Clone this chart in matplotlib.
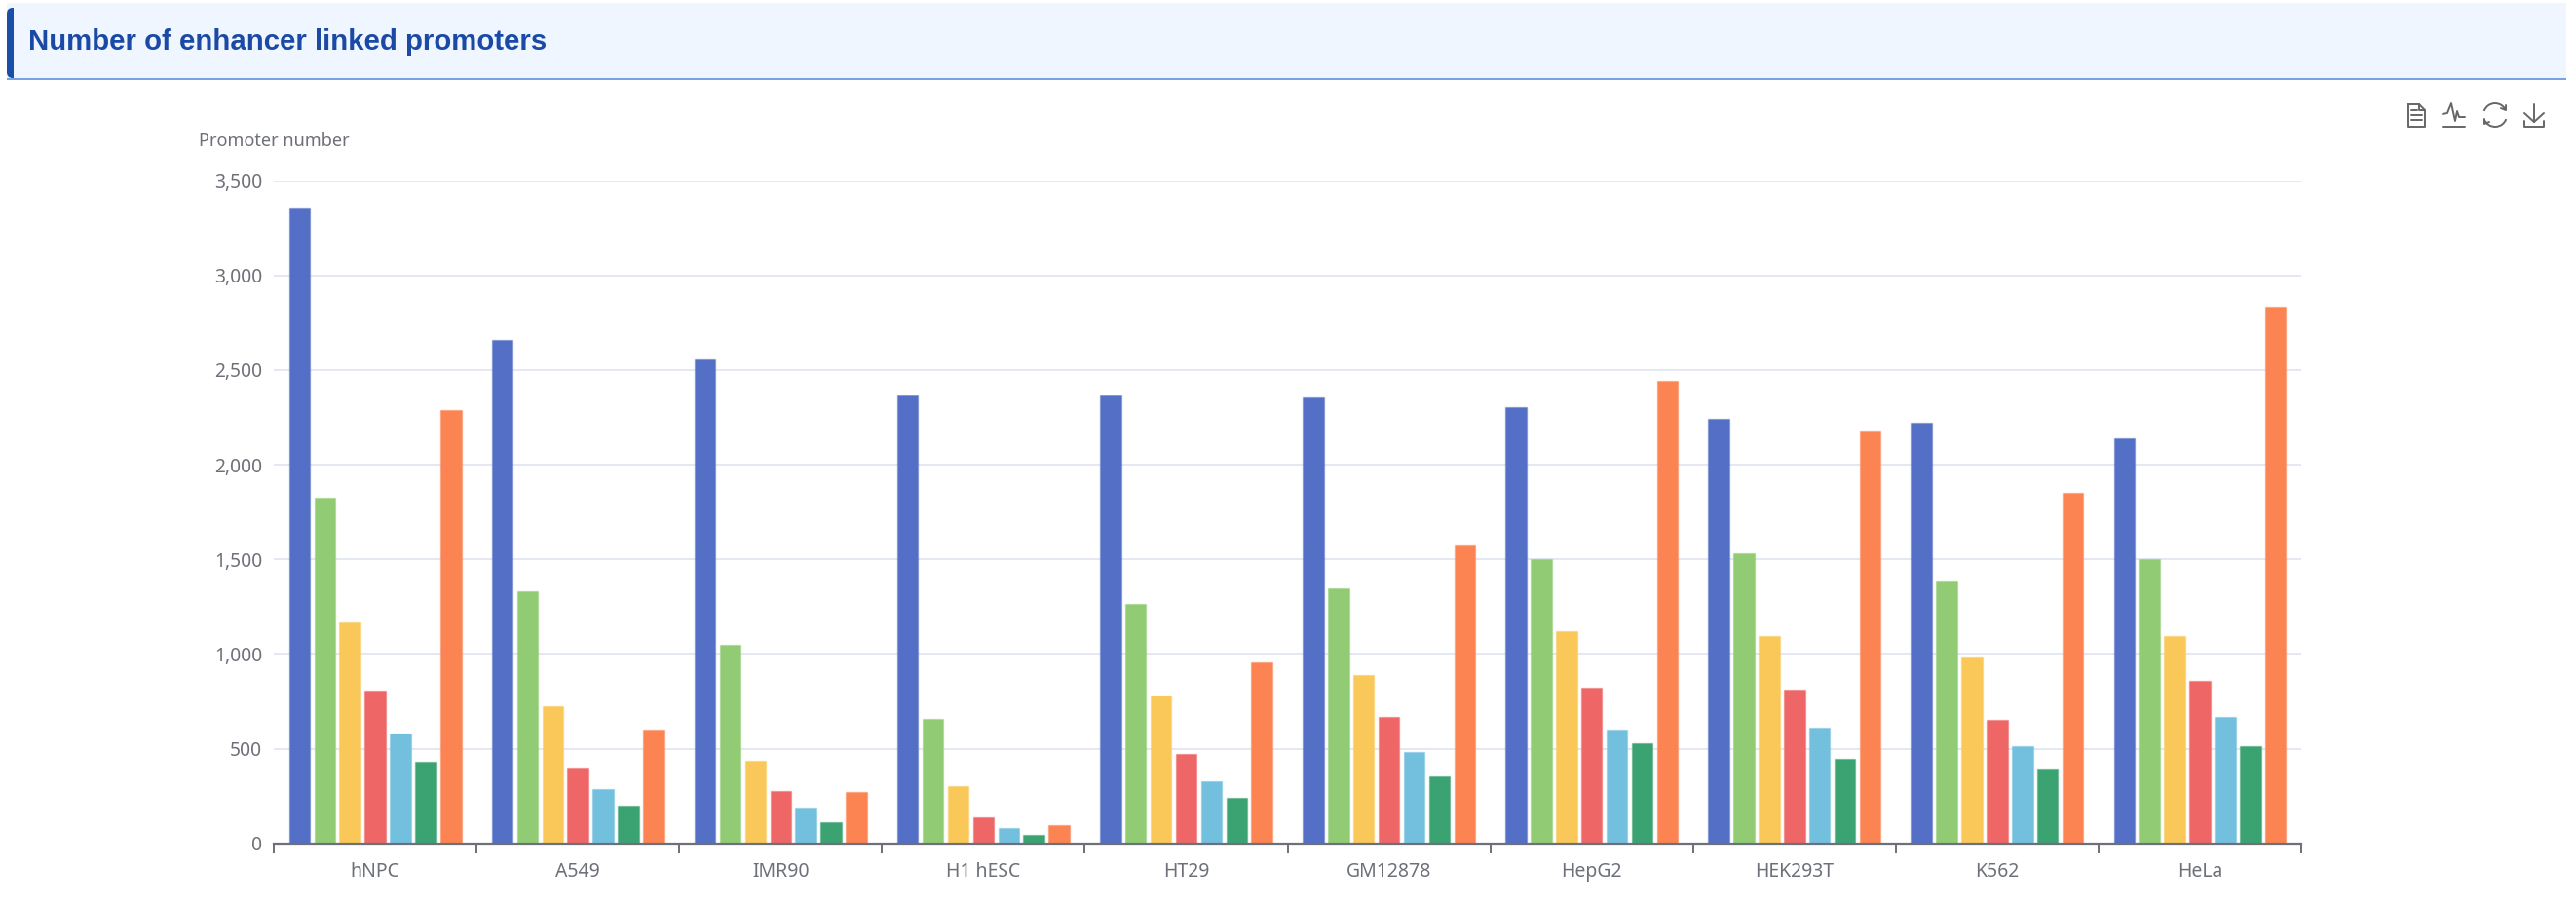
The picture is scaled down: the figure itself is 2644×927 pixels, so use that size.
import matplotlib
matplotlib.use("Agg")
import matplotlib.pyplot as plt
import numpy as np
from matplotlib.patches import Rectangle, Arc, FancyBboxPatch
from matplotlib.colors import to_rgba

W, H = 2644, 927

categories = ["hNPC", "A549", "IMR90", "H1 hESC", "HT29", "GM12878", "HepG2", "HEK293T", "K562", "HeLa"]
series_a = [3354, 2657, 2555, 2367, 2366, 2354, 2303, 2241, 2222, 2142]
series_b = [1824, 1329, 1050, 655, 1265, 1345, 1500, 1532, 1390, 1499]
series_c = [1165, 724, 437, 304, 781, 887, 1120, 1093, 986, 1095]
series_d = [806, 399, 275, 136, 474, 669, 820, 813, 653, 859]
series_e = [581, 285, 188, 81, 328, 480, 599, 609, 511, 668]
series_f = [430, 199, 112, 43, 242, 353, 530, 446, 395, 511]
series_g = [2289, 600, 270, 94, 957, 1577, 2443, 2181, 1852, 2833]
colors = ["#5470c6", "#91cc75", "#fac858", "#ee6666", "#73c0de", "#3ba272", "#fc8452"]
yticks = [0, 500, 1000, 1500, 2000, 2500, 3000, 3500]

TXT = "#6e7079"
GRID = "#e3e8f3"
FONT = "Noto Sans"

fig = plt.figure(figsize=(W / 100, H / 100), dpi=100, facecolor="white")

# pixel overlay for the page furniture
bg = fig.add_axes([0, 0, 1, 1], zorder=0)
bg.set_xlim(0, W)
bg.set_ylim(H, 0)
bg.axis("off")
bg.add_patch(Rectangle((7, 3), 2627, 78, fc="#eff6ff", ec="none"))
bg.add_patch(FancyBboxPatch((7, 8), 20, 72, boxstyle="round,pad=0,rounding_size=6", fc="#1a4fa8", ec="none"))
bg.add_patch(Rectangle((14, 3), 14, 78, fc="#eff6ff", ec="none"))
bg.plot([7, 2634], [81, 81], color="#6a9ade", lw=1.3, solid_capstyle="butt")
bg.text(29, 43, "Number of enhancer linked promoters", fontsize=21.2, fontweight="bold",
        family="Liberation Sans", color="#1a4aa5", va="center", ha="left")
bg.text(204, 145, "Promoter number", fontsize=13.1, family=FONT, color=TXT, va="center", ha="left")

# toolbox icons
ic = dict(color="#666666", lw=1.4, solid_capstyle="round", solid_joinstyle="round")
bg.plot([2472, 2483, 2489, 2489, 2472, 2472], [107, 107, 113, 130, 130, 107], **ic)
bg.plot([2483, 2483, 2489], [107, 113, 113], **ic)
for yy, x2 in ((113, 2481), (118, 2486), (123, 2486)):
    bg.plot([2475, x2], [yy, yy], **ic)
bg.plot([2507, 2512, 2516, 2520, 2522, 2524, 2530], [117, 116, 106, 124, 114, 120, 120], **ic)
bg.plot([2507, 2530], [129.5, 129.5], **ic)
bg.add_patch(Arc((2561, 118), 24, 24, theta1=200, theta2=335, ec="#666666", lw=1.4))
bg.add_patch(Arc((2561, 118), 24, 24, theta1=20, theta2=155, ec="#666666", lw=1.4))
bg.plot([2567, 2572, 2572], [111, 113, 108], **ic)
bg.plot([2550, 2550, 2555], [122, 127, 125], **ic)
bg.plot([2601, 2601], [107, 125], **ic)
bg.plot([2591, 2601, 2611], [116, 125, 116], **ic)
bg.plot([2591, 2591, 2611, 2611], [124, 130, 130, 124], **ic)

# chart
left, right, top, bottom = 281, 2362, 185.7, 865.7
ax = fig.add_axes([left / W, 1 - bottom / H, (right - left) / W, (bottom - top) / H], zorder=1)
ax.patch.set_alpha(0)
n = len(categories)
cat_px = (right - left) / n
pitch = 25.9 / cat_px
bar_w = 21.5 / cat_px
x = np.arange(n)
all_series = [series_a, series_b, series_c, series_d, series_e, series_f, series_g]
for j, (vals, c) in enumerate(zip(all_series, colors)):
    ax.bar(x + (j - 3) * pitch, vals, width=bar_w, color=c,
           edgecolor=to_rgba(c, 0.4), linewidth=1.0, zorder=3)
ax.set_xlim(-0.5, n - 0.5)
ax.set_ylim(0, 3500)
ax.set_yticks(yticks)
ax.set_yticklabels([f"{v:,}" for v in yticks], fontsize=13.8, family=FONT, color=TXT)
ax.set_xticks(np.arange(n + 1) - 0.5)
ax.set_xticklabels([])
ax.set_xticks(x, minor=True)
ax.set_xticklabels(categories, minor=True, fontsize=14, family=FONT, color=TXT)
ax.tick_params(axis="x", which="major", length=7, width=1.4, color=TXT)
ax.tick_params(axis="x", which="minor", length=0, pad=14)
ax.tick_params(axis="y", length=0, pad=8.5)
ax.grid(axis="y", color=GRID, lw=1.4, zorder=0)
ax.set_axisbelow(True)
for s in ("left", "right", "top"):
    ax.spines[s].set_visible(False)
ax.spines["bottom"].set_color(TXT)
ax.spines["bottom"].set_linewidth(1.6)
ax.spines["bottom"].set_zorder(4)

fig.savefig("out.png", dpi=100)
